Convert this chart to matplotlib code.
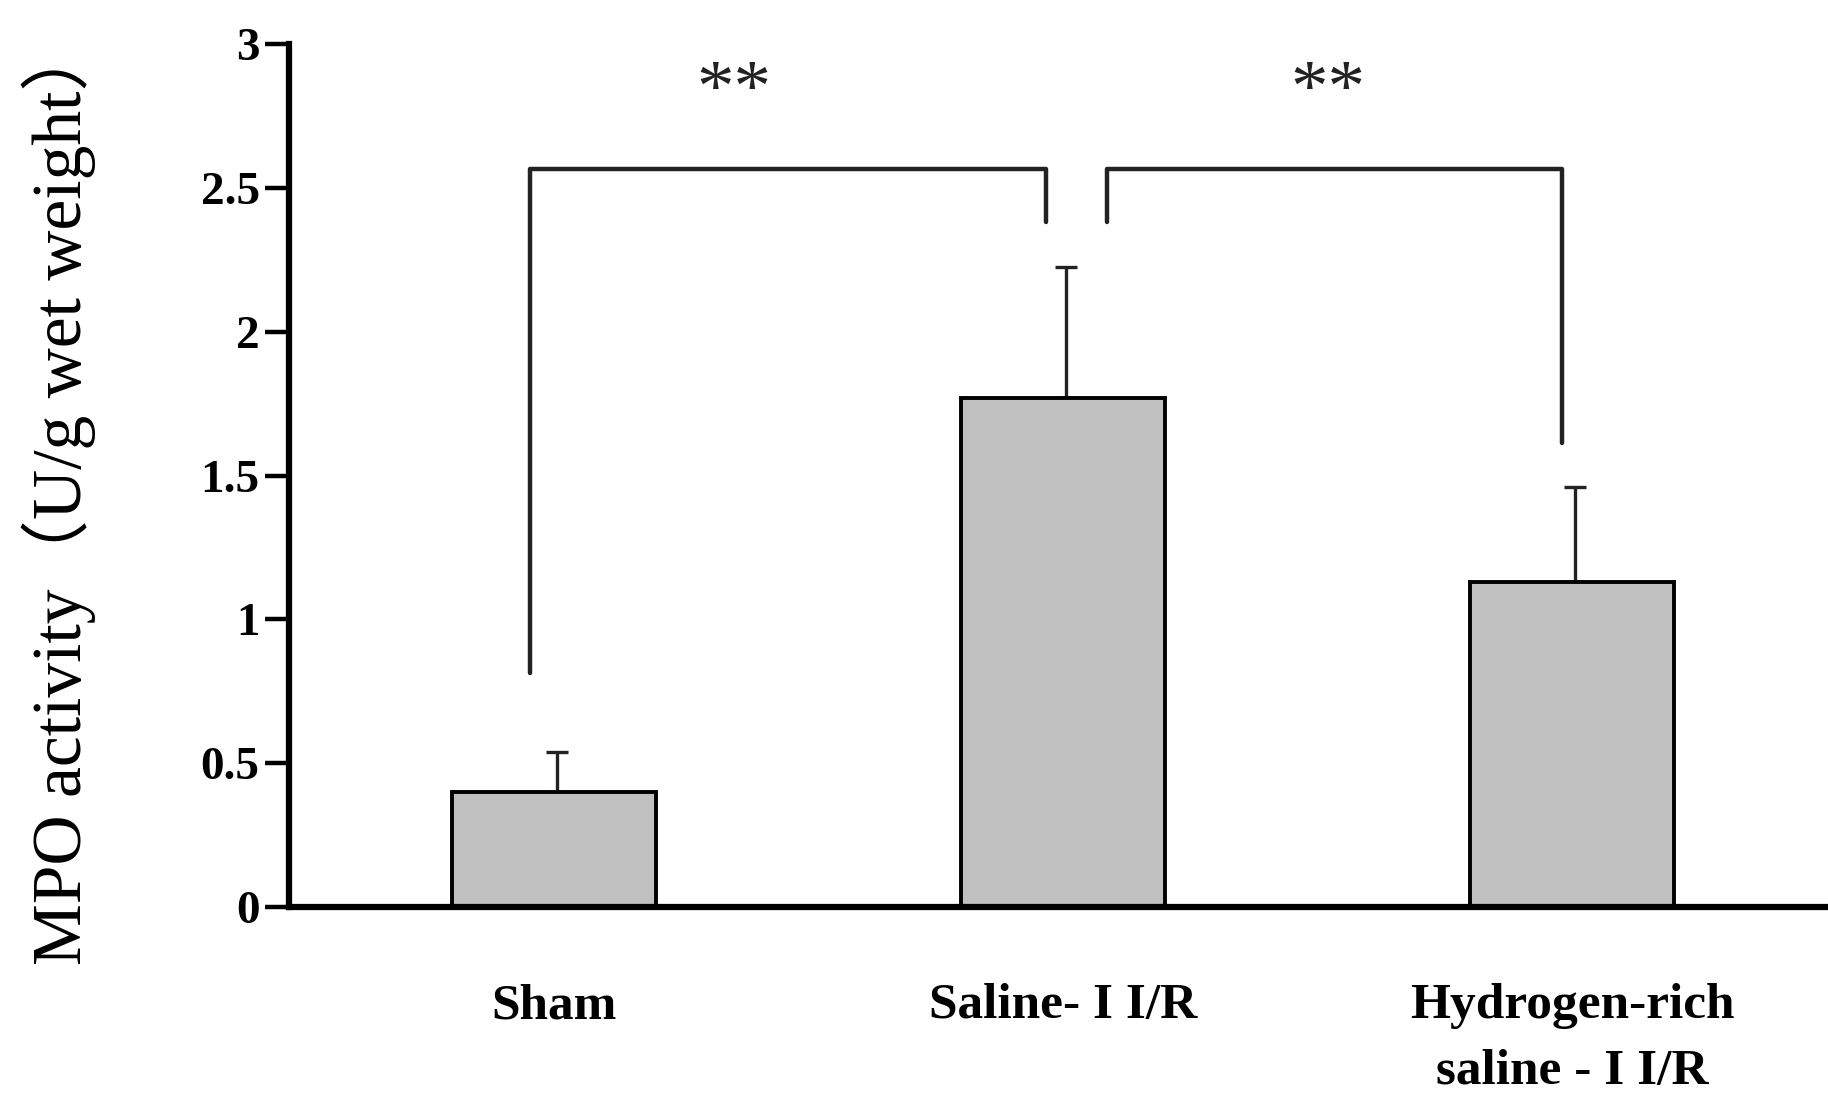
#!/usr/bin/env python
"""MPO activity bar chart with significance brackets."""

import matplotlib
matplotlib.use("Agg")
import matplotlib.pyplot as plt
import numpy as np

groups = ["Sham", "Saline- I I/R", "Hydrogen-rich\nsaline - I I/R"]
mpo_mean = [0.40, 1.77, 1.13]
mpo_sd = [0.14, 0.455, 0.33]
yticks = [0, 0.5, 1, 1.5, 2, 2.5, 3]
ytick_labels = ["0", "0.5", "1", "1.5", "2", "2.5", "3"]
sig_label = "**"

SERIF = ["Liberation Serif", "DejaVu Serif"]


def _bracket(ax, x0, x1, y_top, y0_end, y1_end, label, label_x, label_y):
    ax.plot([x0, x0, x1, x1], [y0_end, y_top, y_top, y1_end], color="#222222",
            lw=3.2, solid_joinstyle="round", solid_capstyle="round", clip_on=False)
    ax.text(label_x, label_y, label, ha="center", va="center", fontsize=54,
            family=SERIF, color="#222222", clip_on=False)


def main() -> None:
    fig = plt.figure(figsize=(18.28, 10.99), dpi=100)
    ax = fig.add_axes([0.158, 0.1747, 0.842, 0.785])

    x = np.arange(len(groups))
    ax.bar(x, mpo_mean, width=0.4, color="#c0c0c0", edgecolor="black", linewidth=2.8, zorder=2)
    ax.errorbar(x + 0.005, mpo_mean, yerr=[np.zeros(len(x)), mpo_sd], fmt="none",
                ecolor="#222222", elinewidth=2.4, capsize=8, capthick=2.4, zorder=1)

    _bracket(ax, -0.047, 0.966, 2.566, 0.815, 2.383, sig_label, 0.354, 2.83)
    _bracket(ax, 1.087, 1.98, 2.566, 2.383, 1.613, sig_label, 1.52, 2.83)

    ax.set_xlim(-0.521, 2.503)
    ax.set_ylim(0, 3)
    ax.set_yticks(yticks)
    ax.set_yticklabels(ytick_labels, family=SERIF, fontweight="bold", fontsize=34)
    ax.set_xticks(x)
    ax.set_xticklabels(groups, family=SERIF, fontweight="bold", fontsize=37,
                       linespacing=1.55, va="top")
    ax.tick_params(axis="x", length=0, pad=55)
    ax.tick_params(axis="y", direction="out", length=17, width=3.2, pad=4)

    for side in ("top", "right"):
        ax.spines[side].set_visible(False)
    ax.spines["left"].set_linewidth(4.5)
    ax.spines["bottom"].set_linewidth(4.5)

    ax.set_ylabel("MPO activity（U/g wet weight）", family=["Liberation Serif", "Noto Sans CJK SC"],
                  fontsize=50)
    ax.yaxis.set_label_coords(-0.125, 0.48)

    fig.savefig("out.png", dpi=100)
    plt.close(fig)


if __name__ == "__main__":
    main()
